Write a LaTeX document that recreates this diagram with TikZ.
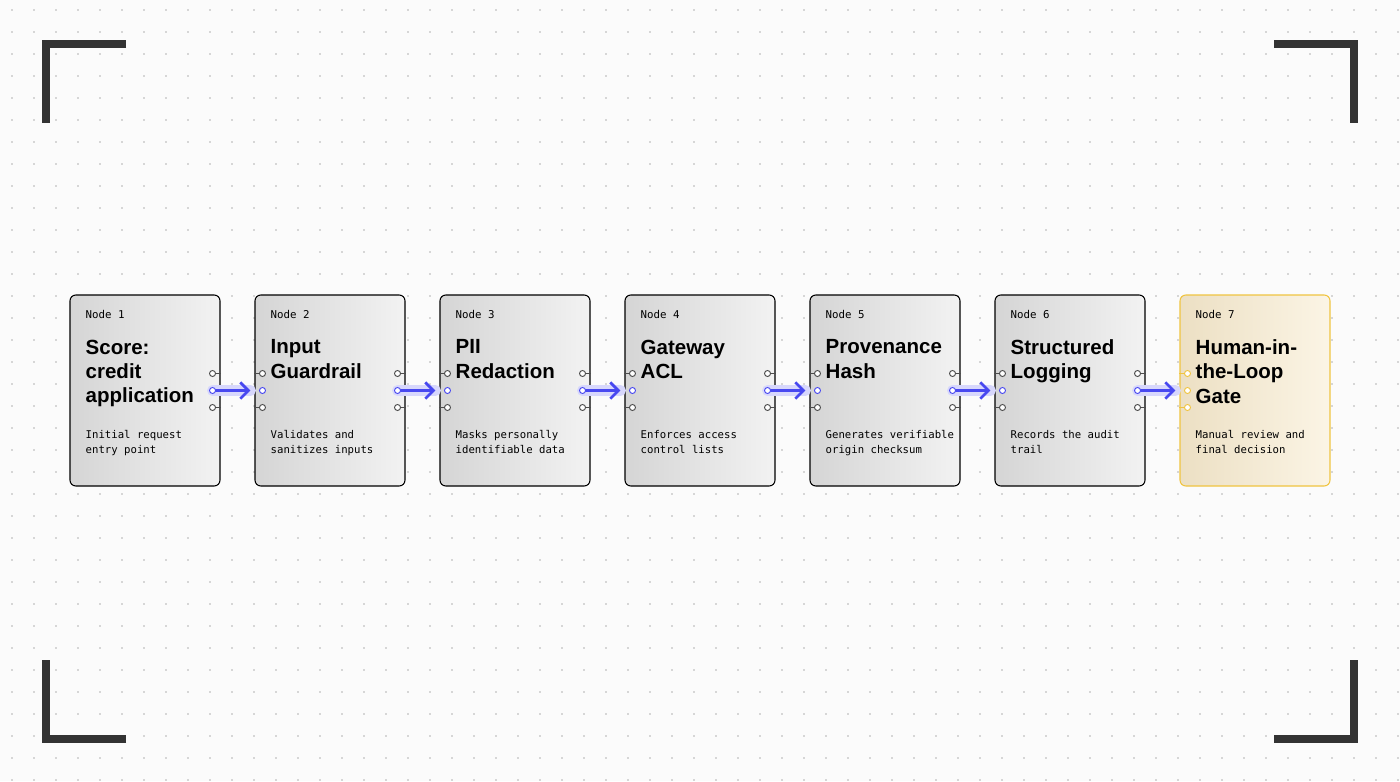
\documentclass[tikz,border=0pt]{standalone}
\usepackage{fontspec}
\usetikzlibrary{arrows.meta,positioning,calc}
\newfontfamily\titlefont{Liberation Sans}
\newfontfamily\monofont{DejaVu Sans Mono}
\definecolor{flow}{HTML}{4848F0}
\definecolor{gold}{HTML}{F0C440}
\definecolor{goldfill}{HTML}{F8EACB}
\definecolor{frame}{HTML}{333333}
\tikzset{
  box/.style={draw=black, line width=0.9pt, rounded corners=5pt, minimum width=150*0.03cm,
    minimum height=191*0.03cm, inner sep=0pt, left color=gray!33, right color=gray!10},
  gatebox/.style={box, draw=gold, left color=goldfill!90!gray, right color=goldfill!50},
  tag/.style={font=\monofont\fontsize{9.2}{11}\selectfont, anchor=north west, inner sep=0pt},
  head/.style={font=\titlefont\bfseries\fontsize{17.5}{20.8}\selectfont, anchor=north west,
    align=left, inner sep=0pt},
  desc/.style={font=\monofont\fontsize{9.1}{12.8}\selectfont, anchor=north west, align=left, inner sep=0pt},
  port/.style={draw=#1, line width=0.8pt, fill=white, circle, inner sep=0pt, minimum size=6*0.03cm},
  bracket/.style={frame, line width=7.5*0.03cm},
  glow/.style={flow!22, line width=11*0.03cm, line cap=round, line join=round},
  link/.style={flow, line width=2.4pt, line cap=round,
    -{Straight Barb[length=7pt,width=14pt,line width=2.4pt]}},
}
\begin{document}
\begin{tikzpicture}[x=0.03cm, y=-0.03cm]
\useasboundingbox (0,0) rectangle (1400,781);
\fill[gray!3] (0,0) rectangle (1400,781);
% dot grid
\foreach \i in {0,...,63}
  \foreach \j in {0,...,35}
    \fill[gray!60] (12+22*\i, 10+22*\j) circle (0.9*0.03cm);
% corner brackets
\draw[bracket] (126,44) -- (46,44) -- (46,123);
\draw[bracket] (1274,44) -- (1354,44) -- (1354,123);
\draw[bracket] (126,739) -- (46,739) -- (46,660);
\draw[bracket] (1274,739) -- (1354,739) -- (1354,660);
% boxes
\foreach \k/\title/\info in {
  1/{Score:\\credit\\application}/{Initial request\\entry point},
  2/{Input\\Guardrail}/{Validates and\\sanitizes inputs},
  3/{PII\\Redaction}/{Masks personally\\identifiable data},
  4/{Gateway\\ACL}/{Enforces access\\control lists},
  5/{Provenance\\Hash}/{Generates verifiable\\origin checksum},
  6/{Structured\\Logging}/{Records the audit\\trail},
  7/{Human-in-\\the-Loop\\Gate}/{Manual review and\\final decision}}
{
  \ifnum\k=7 \def\bs{gatebox}\else\def\bs{box}\fi
  \node[\bs] (n\k) at ({145+185*(\k-1)}, 390.5) {};
  \node[tag] (t\k) at ($(n\k.north west)+(16,16)$) {Node \k};
  \node[head] (h\k) at ($(n\k.north west)+(16,45)$) {\title};
  \node[desc] (d\k) at ($(n\k.north west)+(16,136)$) {\info};
}
% ports and links
\foreach \k [evaluate=\k as \m using int(\k+1)] in {1,...,6} {
  \ifnum\m=7 \def\pc{gold}\else\def\pc{black!70}\fi
  \foreach \dy/\c in {-17/black!70, 17/black!70} {
    \node[port=\c] (o\k\dy) at ($(n\k.east)+(-8,\dy)$) {};
    \draw[\c, line width=0.8pt] (o\k\dy) -- ($(n\k.east)+(0,\dy)$);
    \node[port=\pc] (i\m\dy) at ($(n\m.west)+(8,\dy)$) {};
    \draw[\pc, line width=0.8pt] (i\m\dy) -- ($(n\m.west)+(0,\dy)$);
  }
  \coordinate (a\k) at ($(n\m.west)+(-4,0)$);
  \draw[glow] ($(n\k.east)+(-8,0)$) -- (a\k);
  \draw[link] ($(n\k.east)+(-5,0)$) -- (a\k);
  \node[port=flow] (o\k) at ($(n\k.east)+(-8,0)$) {};
  \ifnum\m=7 \node[port=gold] (i\m) at ($(n\m.west)+(8,0)$) {};
  \else \node[port=flow] (i\m) at ($(n\m.west)+(8,0)$) {};\fi
}
\end{tikzpicture}
\end{document}
